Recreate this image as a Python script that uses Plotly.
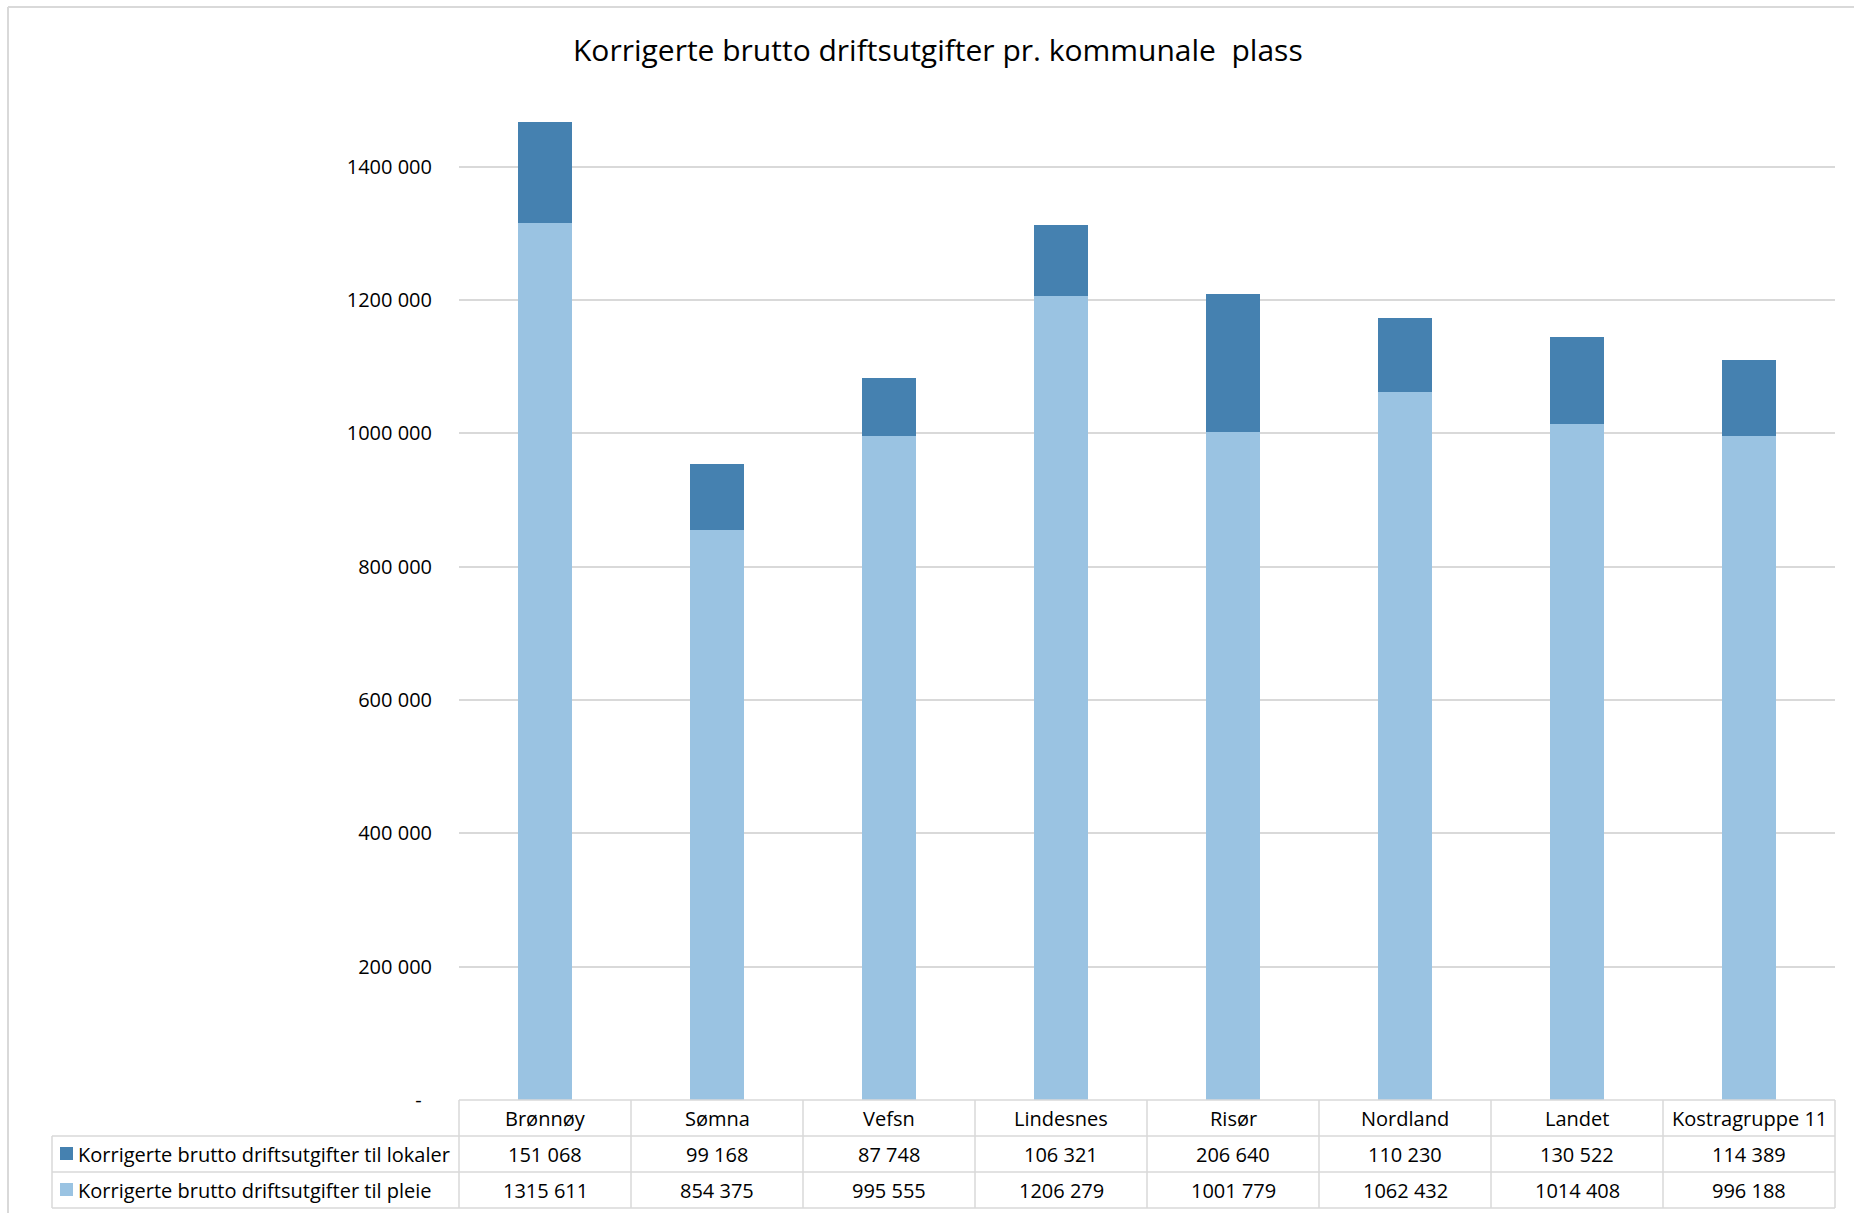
import plotly.graph_objects as go

# Data
categories = ["Brønnøy", "Sømna", "Vefsn", "Lindesnes", "Risør", "Nordland", "Landet", "Kostragruppe 11"]
pleie = [1315611, 854375, 995555, 1206279, 1001779, 1062432, 1014408, 996188]
lokaler = [151068, 99168, 87748, 106321, 206640, 110230, 130522, 114389]
series_names = ["Korrigerte brutto driftsutgifter til lokaler", "Korrigerte brutto driftsutgifter til pleie"]
y_ticks = [0, 200000, 400000, 600000, 800000, 1000000, 1200000, 1400000]

COL_LOKALER = "#4581b0"
COL_PLEIE = "#9ac3e2"
GRID = "#d9d9d9"
FONT = "Open Sans, sans-serif"
TXT = 20

W, H = 1854, 1213
L, R, T, B = 459, 1835, 100, 1100  # plot area in pixels
PW, PH = R - L, B - T


def px(x):
    return (x - L) / PW


def py(y):
    return (B - y) / PH


def fmt(v):
    # "### ###" style: only the last three digits are split off
    s = str(v)
    return s if len(s) <= 3 else s[:-3] + " " + s[-3:]


fig = go.Figure()
fig.add_bar(x=categories, y=pleie, name=series_names[1], marker_color=COL_PLEIE,
            marker_line_width=0, width=0.31)
fig.add_bar(x=categories, y=lokaler, name=series_names[0], marker_color=COL_LOKALER,
            marker_line_width=0, width=0.31)

shapes = []
annotations = []
n = len(categories)

row_bot = 1208
legend_left = 52
line = dict(color=GRID, width=1.5)

# table grid: horizontal lines
shapes.append(dict(type="line", xref="paper", yref="paper", x0=0, x1=1, y0=py(1100), y1=py(1100), line=line))
for yy in [1136, 1172, row_bot]:
    shapes.append(dict(type="line", xref="paper", yref="paper", x0=px(legend_left), x1=1,
                       y0=py(yy), y1=py(yy), line=line))
# table grid: vertical lines
for k in range(n + 1):
    shapes.append(dict(type="line", xref="paper", yref="paper", x0=k / n, x1=k / n,
                       y0=py(1100), y1=py(row_bot), line=line))
shapes.append(dict(type="line", xref="paper", yref="paper", x0=px(legend_left), x1=px(legend_left),
                   y0=py(1136), y1=py(row_bot), line=line))

# outer chart frame (top and left)
shapes.append(dict(type="line", xref="paper", yref="paper", x0=px(8), x1=px(1854), y0=py(7), y1=py(7),
                   line=dict(color=GRID, width=2)))
shapes.append(dict(type="line", xref="paper", yref="paper", x0=px(8), x1=px(8), y0=py(7), y1=py(1213),
                   line=dict(color=GRID, width=2)))

# header row: category names
for k, c in enumerate(categories):
    annotations.append(dict(xref="paper", yref="paper", x=(k + 0.5) / n, y=py(1118), text=c,
                            showarrow=False, xanchor="center", yanchor="middle",
                            font=dict(size=TXT, color="#000000", family=FONT)))

# value rows with legend keys
rows = [(series_names[0], lokaler, COL_LOKALER, 1154), (series_names[1], pleie, COL_PLEIE, 1190)]
for name, vals, col, yc in rows:
    shapes.append(dict(type="rect", xref="paper", yref="paper", x0=px(60), x1=px(73),
                       y0=py(yc - 7), y1=py(yc + 6), fillcolor=col, line=dict(width=0)))
    annotations.append(dict(xref="paper", yref="paper", x=px(76), y=py(yc), text=name,
                            showarrow=False, xanchor="left", yanchor="middle",
                            font=dict(size=TXT, color="#000000", family=FONT)))
    for k, v in enumerate(vals):
        annotations.append(dict(xref="paper", yref="paper", x=(k + 0.5) / n, y=py(yc), text=fmt(v),
                                showarrow=False, xanchor="center", yanchor="middle",
                                font=dict(size=TXT, color="#000000", family=FONT)))

# title
annotations.append(dict(xref="paper", yref="paper", x=px(938), y=py(49),
                        text="Korrigerte brutto driftsutgifter pr. kommunale  plass",
                        showarrow=False, xanchor="center", yanchor="middle",
                        font=dict(size=30, color="#000000", family=FONT)))

ticktext = ["-  " if v == 0 else fmt(v) for v in y_ticks]

fig.update_layout(
    width=W, height=H,
    margin=dict(l=L, r=W - R, t=T, b=H - B, pad=0),
    barmode="stack",
    showlegend=False,
    plot_bgcolor="white", paper_bgcolor="white",
    font=dict(family=FONT, size=TXT, color="#000000"),
    shapes=shapes,
    annotations=annotations,
    xaxis=dict(showticklabels=False, showgrid=False, zeroline=False, showline=False,
               range=[-0.5, n - 0.5], fixedrange=True),
    yaxis=dict(range=[0, 1500000], tickvals=y_ticks, ticktext=ticktext,
               showgrid=True, gridcolor=GRID, gridwidth=1.5, zeroline=False, showline=False,
               ticklabelstandoff=26, tickfont=dict(size=TXT, family=FONT, color="#000000")),
)

fig.write_html("out.html")
